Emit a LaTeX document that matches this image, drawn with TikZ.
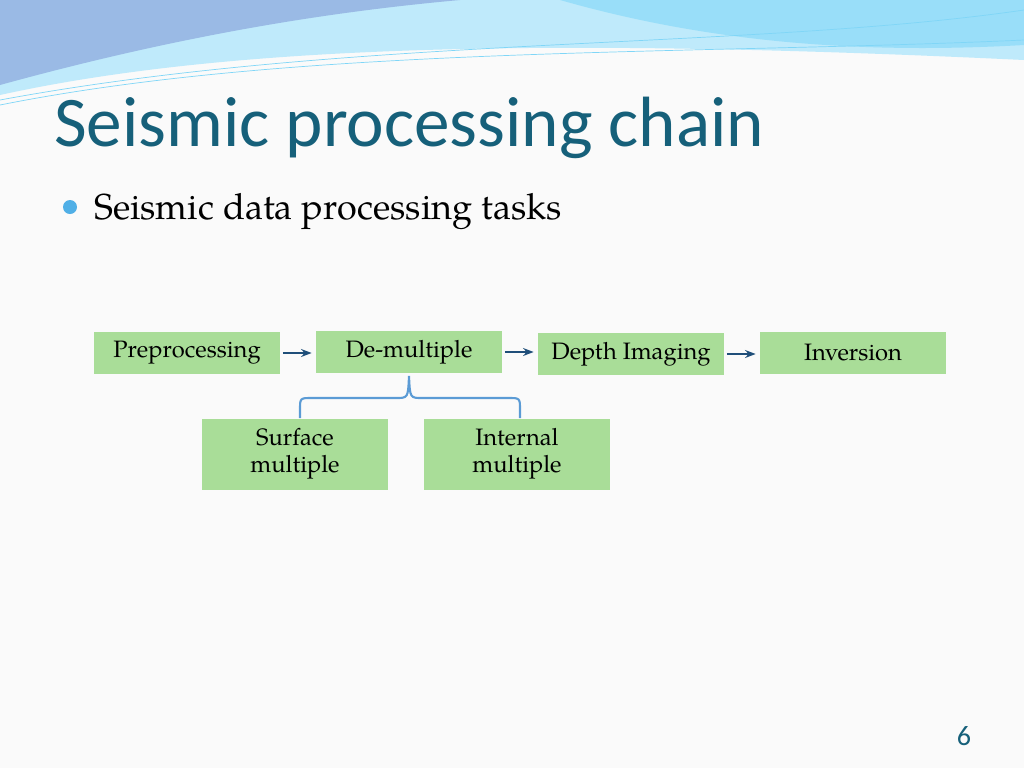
\documentclass[tikz,border=0pt]{standalone}
\usepackage{fontspec}
\setmainfont{TeX Gyre Pagella}[Scale=1]
\newfontfamily\titlefont{Carlito}
\usetikzlibrary{arrows.meta, positioning}
\definecolor{boxgreen}{RGB}{169,221,152}
\definecolor{arrowblue}{RGB}{31,78,121}
\definecolor{bracblue}{RGB}{91,155,213}
\definecolor{titleteal}{RGB}{22,96,122}
\tikzset{%
	task/.style={
		fill=boxgreen,
		minimum width=3.74cm,
		minimum height=0.84cm,
		inner sep=0pt,
		font=\fontsize{13.5}{15.5}\selectfont
	},
	subtask/.style={
		task,
		minimum height=1.42cm,
		align=center
	},
	flow/.style={-{Stealth[length=6pt]}, very thick, arrowblue},
}
\begin{document}
\begin{tikzpicture}[x=0.02cm, y=-0.02cm]
	\useasboundingbox (0,0) rectangle (1024,768);
	\fill[white!96!gray] (0,0) rectangle (1024,768);
	% header waves
	\fill[cyan!25] (0,0) -- (0,95) .. controls (250,40) and (600,40) .. (1024,60) -- (1024,0) -- cycle;
	\fill[cyan!55!blue!40] (0,0) -- (0,85) .. controls (200,30) and (350,10) .. (460,0) -- cycle;
	\fill[cyan!40] (560,0) .. controls (700,40) and (850,55) .. (1024,45) -- (1024,0) -- cycle;
	\draw[cyan!50, thin] (0,105) .. controls (300,45) and (700,55) .. (1024,40);
	\draw[cyan!50, thin] (0,100) .. controls (350,35) and (750,50) .. (1024,10);
	% title
	\node[anchor=base west, text=titleteal, font=\titlefont\fontsize{40.5}{44}\selectfont] (title) at (48,146) {Seismic processing chain};
	\fill[cyan!80!blue!70] (70,207) circle (7);
	\node[anchor=base west, font=\fontsize{20.5}{22}\selectfont] (sub) at (88,219) {Seismic data processing tasks};
	% chain
	\node[task] (pre) at (187,353) {Preprocessing};
	\node[task] (dem) at (409,352) {De-multiple};
	\node[task] (dep) at (631,354) {Depth Imaging};
	\node[task] (inv) at (853,353) {Inversion};
	\node[subtask] (surf) at (295,454) {Surface\\multiple};
	\node[subtask] (intm) at (517,454) {Internal\\multiple};
	\draw[flow] (pre.east) ++(2,0) -- ([xshift=-2pt]dem.west |- pre.east);
	\draw[flow] (dem.east) ++(2,0) -- ([xshift=-2pt]dep.west |- dem.east);
	\draw[flow] (dep.east) ++(2,0) -- ([xshift=-2pt]inv.west |- dep.east);
	% brace
	\draw[bracblue, very thick] (surf.north -| 300,0) -- (300,410) .. controls (300,398) .. (312,398) -- (396,398)
		.. controls (408,398) .. (409,376) .. controls (410,398) .. (422,398) -- (508,398)
		.. controls (520,398) .. (520,410) -- (intm.north -| 520,0);
	\node[font=\titlefont\fontsize{16}{18}\selectfont, text=titleteal] (pg) at (964,736) {6};
\end{tikzpicture}
\end{document}
